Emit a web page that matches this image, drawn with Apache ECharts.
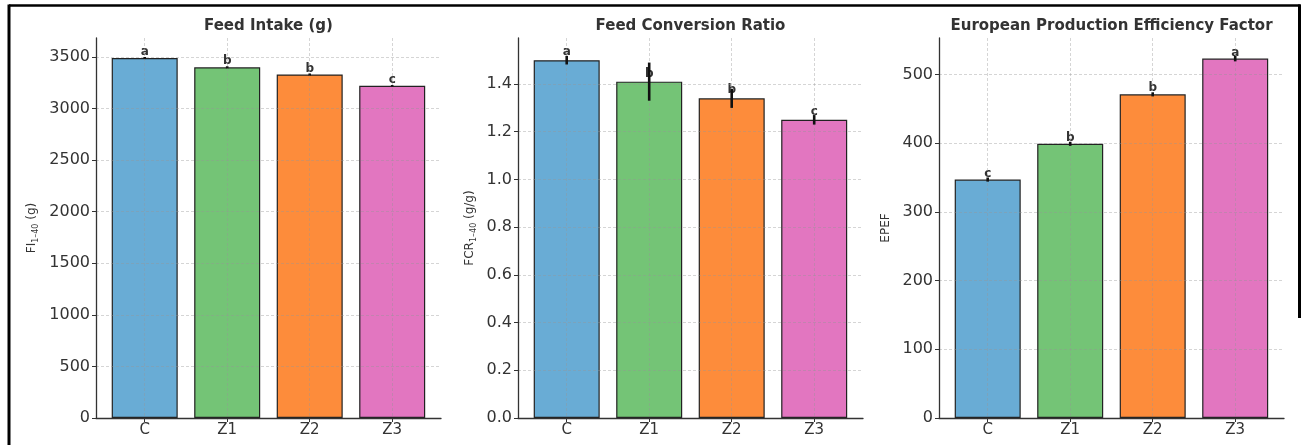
<!DOCTYPE html>
<html>
<head>
<meta charset="utf-8">
<script src="https://cdn.jsdelivr.net/npm/echarts@6/dist/echarts.min.js"></script>
<style>html,body{margin:0;padding:0;background:#fff}#c{width:1302px;height:445px}</style>
</head>
<body>
<div id="c"></div>
<script>
// ---- data ----
const categories = ['C', 'Z1', 'Z2', 'Z3'];
const barColors = ['#69acd5', '#74c476', '#fd8c3b', '#e276c0'];

const fiValues = [3490, 3400, 3330, 3220];
const fiErrors = [10, 10, 10, 8];
const fiLetters = ['a', 'b', 'b', 'c'];
const fiTickMax = 3500, fiTickStep = 500, fiAxisMax = 3684;

const fcrValues = [1.50, 1.41, 1.34, 1.25];
const fcrErrors = [0.018, 0.08, 0.04, 0.02];
const fcrLetters = ['a', 'b', 'b', 'c'];
const fcrTickMax = 1.4, fcrTickStep = 0.2, fcrAxisMax = 1.593;

const epefValues = [347, 399, 471, 523];
const epefErrors = [3, 3, 3, 4];
const epefLetters = ['c', 'b', 'b', 'a'];
const epefTickMax = 500, epefTickStep = 100, epefAxisMax = 553;

const titles = ['Feed Intake (g)', 'Feed Conversion Ratio', 'European Production Efficiency Factor'];

// ---- layout ----
const W = 1302, H = 445;
const plotTop = 38, plotBottom = 418, plotH = plotBottom - plotTop;
const plotW = 345, firstCenter = 48.7, catStep = 82.5;
const font = 'DejaVu Sans';
const axisColor = '#333';
const gridLine = {color: 'rgba(150,150,150,0.5)', width: 0.8, type: [3, 2]};

const panels = [
  {ax: 96, values: fiValues, errs: fiErrors, letters: fiLetters, tickMax: fiTickMax, step: fiTickStep, axMax: fiAxisMax,
   name: '{n|FI}{s|1–40}{n| (g)}', nameGap: 56, fmt: v => String(v), letterDist: 0},
  {ax: 518, values: fcrValues, errs: fcrErrors, letters: fcrLetters, tickMax: fcrTickMax, step: fcrTickStep, axMax: fcrAxisMax,
   name: '{n|FCR}{s|1–40}{n| (g/g)}', nameGap: 40, fmt: v => v.toFixed(1), letterDist: 2},
  {ax: 939, values: epefValues, errs: epefErrors, letters: epefLetters, tickMax: epefTickMax, step: epefTickStep, axMax: epefAxisMax,
   name: '{n|EPEF}', nameGap: 45, fmt: v => String(v), letterDist: 0}
];

const grid = [], xAxis = [], yAxis = [], series = [], graphic = [];

panels.forEach((p, k) => {
  const gA = 2 * k, gB = 2 * k + 1;
  const topA = plotBottom - p.tickMax / p.axMax * plotH;
  // frame grid: y ticks, horizontal grid, x axis line
  grid.push({left: p.ax, width: plotW, top: topA, bottom: H - plotBottom, containLabel: false});
  // plot grid: bars at category centres
  grid.push({left: p.ax + firstCenter, width: catStep * (categories.length - 1), top: plotTop, bottom: H - plotBottom, containLabel: false});

  xAxis.push({gridIndex: gA, type: 'value', min: 0, max: 1, z: 3,
    axisLine: {show: true, lineStyle: {color: axisColor, width: 1.3}},
    axisTick: {show: false}, axisLabel: {show: false}, splitLine: {show: false}});
  yAxis.push({gridIndex: gA, type: 'value', min: 0, max: p.tickMax, interval: p.step, z: 3,
    axisLine: {show: false},
    axisTick: {show: true, length: 4, lineStyle: {color: axisColor, width: 1}},
    axisLabel: {show: true, margin: 6, color: '#333', fontFamily: font, fontSize: 16, formatter: p.fmt},
    splitLine: {show: true, lineStyle: gridLine}});

  xAxis.push({gridIndex: gB, type: 'category', data: categories, boundaryGap: false, z: 3,
    axisLine: {show: false},
    axisTick: {show: true, length: 4, lineStyle: {color: axisColor, width: 1}},
    axisLabel: {show: true, margin: 5, color: '#333', fontFamily: font, fontSize: 15},
    splitLine: {show: true, lineStyle: gridLine}});
  yAxis.push({gridIndex: gB, type: 'value', min: 0, max: p.axMax, offset: firstCenter, z: 3,
    axisLine: {show: true, lineStyle: {color: axisColor, width: 1.3}},
    axisTick: {show: false}, axisLabel: {show: false}, splitLine: {show: false},
    name: p.name, nameLocation: 'middle', nameGap: p.nameGap,
    nameTextStyle: {color: '#333', fontFamily: font,
      rich: {n: {fontSize: 12, fontFamily: font, color: '#333', lineHeight: 16},
             s: {fontSize: 8, fontFamily: font, color: '#333', lineHeight: 16, verticalAlign: 'bottom', padding: [6, 0, 0, 0]}}}});

  series.push({type: 'bar', xAxisIndex: gB, yAxisIndex: gB, barWidth: 66, clip: false,
    data: p.values.map((v, i) => ({value: v, itemStyle: {color: barColors[i]}})),
    itemStyle: {borderColor: '#222', borderWidth: 1.2},
    label: {show: true, position: 'top', distance: p.letterDist, color: '#333', fontFamily: font, fontWeight: 'bold', fontSize: 12,
      formatter: prm => p.letters[prm.dataIndex]}});
  series.push({type: 'custom', xAxisIndex: gB, yAxisIndex: gB, clip: false, z: 4,
    data: p.values.map((v, i) => [i, v, p.errs[i]]),
    encode: {x: 0, y: 1},
    renderItem: (params, api) => {
      const i = api.value(0), v = api.value(1), e = api.value(2);
      const a = api.coord([i, v - e]), b = api.coord([i, v + e]);
      return {type: 'line', shape: {x1: a[0], y1: a[1], x2: b[0], y2: b[1]}, style: {stroke: '#111', lineWidth: 2.6}};
    }});

  graphic.push({type: 'text', x: p.ax + plotW / 2, y: 26,
    style: {text: titles[k], fontFamily: font, fontWeight: 'bold', fontSize: 15, fill: '#333', align: 'center', verticalAlign: 'middle'}});
});

// figure frame
graphic.push({type: 'line', shape: {x1: 9, y1: 5.5, x2: 1300.5, y2: 5.5}, style: {stroke: '#000', lineWidth: 2.5}});
graphic.push({type: 'line', shape: {x1: 9, y1: 4.5, x2: 9, y2: 445}, style: {stroke: '#000', lineWidth: 3}});
graphic.push({type: 'line', shape: {x1: 1299.5, y1: 4.5, x2: 1299.5, y2: 318}, style: {stroke: '#000', lineWidth: 3}});

const chart = echarts.init(document.getElementById('c'), null, {renderer: 'canvas', width: W, height: H});
chart.setOption({animation: false, backgroundColor: '#fff', grid, xAxis, yAxis, series, graphic});
</script>
</body>
</html>
